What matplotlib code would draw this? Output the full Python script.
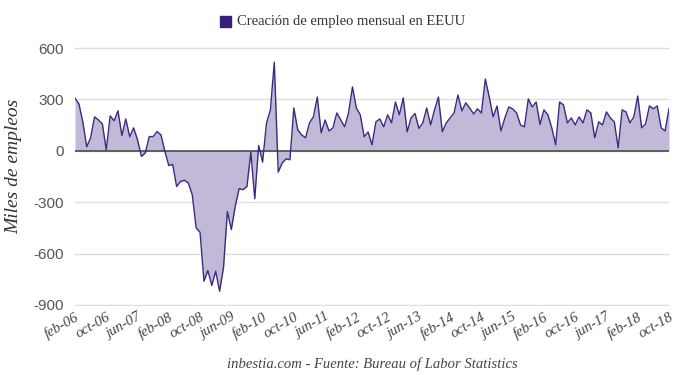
import matplotlib
matplotlib.use("Agg")
import matplotlib.pyplot as plt
import matplotlib.transforms as mtransforms
import numpy as np

# Monthly change in US nonfarm payrolls (thousands), feb-2006 .. oct-2018
jobs_2006 = [307, 274, 169, 23, 76, 198, 180, 157, 6, 204, 175]
jobs_2007 = [233, 89, 186, 82, 134, 64, -33, -12, 83, 83, 112, 93]
jobs_2008 = [-4, -86, -80, -208, -179, -172, -188, -256, -450, -476, -761, -699]
jobs_2009 = [-786, -703, -820, -682, -355, -460, -324, -221, -227, -208, -8, -280]
jobs_2010 = [31, -66, 161, 239, 517, -124, -72, -47, -52, 250, 122, 93]
jobs_2011 = [76, 163, 198, 314, 105, 180, 116, 134, 221, 180, 140, 221]
jobs_2012 = [373, 250, 210, 82, 110, 35, 169, 186, 140, 210, 163, 285]
jobs_2013 = [210, 309, 110, 192, 218, 131, 163, 250, 151, 239, 314, 111]
jobs_2014 = [163, 192, 221, 326, 233, 280, 250, 215, 245, 221, 419, 314]
jobs_2015 = [198, 262, 116, 192, 256, 245, 221, 151, 140, 303, 256, 285]
jobs_2016 = [154, 239, 210, 134, 35, 285, 268, 163, 192, 151, 198, 163]
jobs_2017 = [239, 221, 76, 169, 151, 227, 192, 169, 17, 239, 227, 163]
jobs_2018 = [198, 320, 134, 157, 262, 245, 262, 134, 116, 245]

jobs = (jobs_2006 + jobs_2007 + jobs_2008 + jobs_2009 + jobs_2010 + jobs_2011
        + jobs_2012 + jobs_2013 + jobs_2014 + jobs_2015 + jobs_2016
        + jobs_2017 + jobs_2018)

tick_labels = ["feb-06", "oct-06", "jun-07", "feb-08", "oct-08", "jun-09",
               "feb-10", "oct-10", "jun-11", "feb-12", "oct-12", "jun-13",
               "feb-14", "oct-14", "jun-15", "feb-16", "oct-16", "jun-17",
               "feb-18", "oct-18"]
y_ticks = [600, 300, 0, -300, -600, -900]

SERIF = "Liberation Serif"
LINE = "#3b2a80"
FILL = "#c2b9d8"

fig = plt.figure(figsize=(6.8, 3.75), dpi=100)
ax = fig.add_axes([75 / 680, 1 - 306 / 375, 594 / 680, 259 / 375])

x = np.arange(len(jobs))
ax.fill_between(x, jobs, 0, color=FILL, lw=0, zorder=1)
ax.plot(x, jobs, color=LINE, lw=1.0, zorder=3)
ax.axhline(0, color="#555555", lw=1.3, zorder=2)

ax.set_xlim(0, len(jobs) - 1)
ax.set_ylim(-906, 606)
ax.set_yticks(y_ticks)
ax.set_yticklabels([str(v) for v in y_ticks], family="Liberation Sans",
                   fontsize=11, color="#555555")
ax.yaxis.grid(True, color="#dddddd", lw=1)
ax.set_axisbelow(True)

ax.set_xticks(x[::8])
ax.set_xticklabels(tick_labels, family=SERIF, style="italic", fontsize=10.5,
                   color="#444444", rotation=30, ha="right",
                   rotation_mode="anchor")
# nudge the rotated labels a little to the right, like the original
shift = mtransforms.ScaledTranslation(5 / 100, 0, fig.dpi_scale_trans)
for lbl in ax.get_xticklabels():
    lbl.set_transform(lbl.get_transform() + shift)
ax.tick_params(length=0)
ax.tick_params(axis="x", pad=3)
ax.tick_params(axis="y", pad=8)
for s in ax.spines.values():
    s.set_visible(False)

ax.set_ylabel("Miles de empleos", family=SERIF, style="italic", fontsize=14,
              color="#333333")
ax.yaxis.set_label_coords(-0.088, 0.54)

# legend-like title at the top
fig.patches.append(plt.Rectangle((220 / 680, 1 - 27 / 375), 11 / 680, 11 / 375,
                                 transform=fig.transFigure, color="#3a1f7a"))
fig.text(237 / 680, 1 - 21 / 375, "Creación de empleo mensual en EEUU",
         family=SERIF, fontsize=10.5, color="#333333", va="center", ha="left")

fig.text(372 / 680, 1 - 364 / 375,
         "inbestia.com - Fuente: Bureau of Labor Statistics",
         family=SERIF, style="italic", fontsize=10.5, color="#444444",
         ha="center", va="center")

fig.savefig("out.png", dpi=100)
